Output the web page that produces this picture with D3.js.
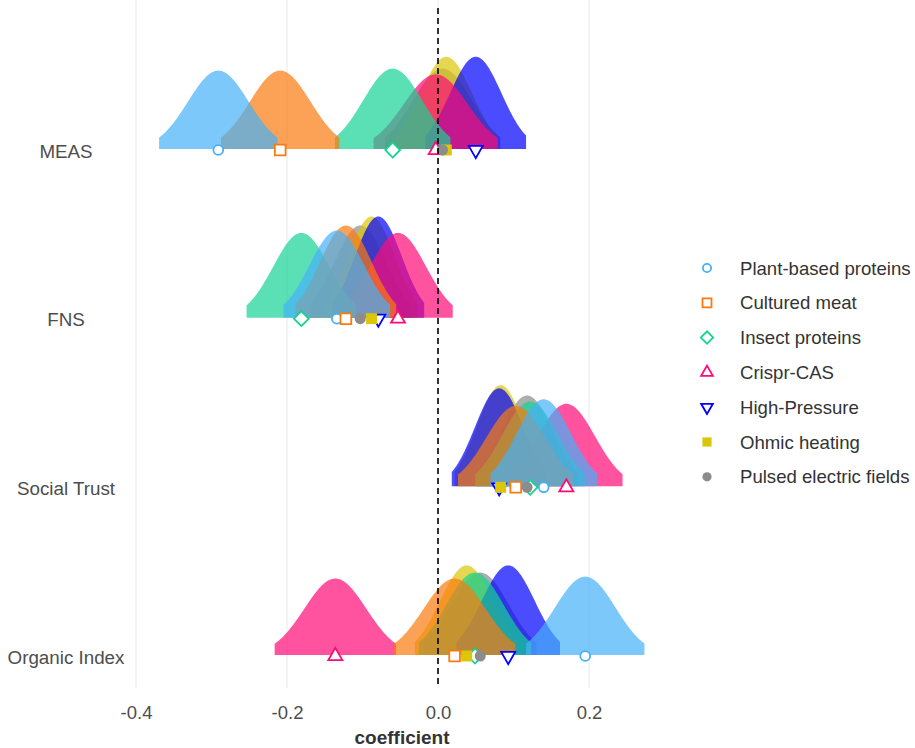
<!DOCTYPE html>
<html>
<head>
<meta charset="utf-8">
<script src="https://cdn.jsdelivr.net/npm/d3@7"></script>
<style>
  body { margin: 0; background: #fff; }
  text { font-family: "Liberation Sans", Arial, sans-serif; }
</style>
</head>
<body>
<svg id="chart"></svg>
<script>
// categories top to bottom
const categories = ['MEAS', 'FNS', 'Social Trust', 'Organic Index'];
const technologies = ['Plant-based proteins', 'Cultured meat', 'Insect proteins', 'Crispr-CAS',
    'High-Pressure', 'Ohmic heating', 'Pulsed electric fields'];
const colors = ['#45B0F8', '#FA7A10', '#14D394', '#FF0A78', '#0000FF', '#DBC60A', '#8C8C8C'];
const xTicks = [-0.4, -0.2, 0.0, 0.2];

// coefficient and standard error per category (MEAS, FNS, Social Trust, Organic Index)
const meanPlant = [-0.291, -0.134, 0.140, 0.195];
const sePlant = [0.040, 0.036, 0.036, 0.040];
const meanCultured = [-0.209, -0.122, 0.103, 0.022];
const seCultured = [0.040, 0.034, 0.039, 0.041];
const meanInsect = [-0.060, -0.181, 0.122, 0.049];
const seInsect = [0.039, 0.037, 0.037, 0.038];
const meanCrispr = [-0.003, -0.053, 0.170, -0.136];
const seCrispr = [0.042, 0.037, 0.038, 0.041];
const meanHP = [0.050, -0.079, 0.081, 0.093];
const seHP = [0.034, 0.031, 0.032, 0.035];
const meanOhmic = [0.011, -0.088, 0.083, 0.038];
const seOhmic = [0.034, 0.031, 0.031, 0.035];
const meanPEF = [0.006, -0.103, 0.118, 0.056];
const sePEF = [0.039, 0.034, 0.0345, 0.038];

const means = [meanPlant, meanCultured, meanInsect, meanCrispr, meanHP, meanOhmic, meanPEF];
const ses = [sePlant, seCultured, seInsect, seCrispr, seHP, seOhmic, sePEF];

const rows = [];
technologies.forEach((t, i) => {
    categories.forEach((c, j) => {
        rows.push({tech: t, idx: i, cat: c, mean: means[i][j], se: ses[i][j]});
    });
});

const W = 915, H = 748;
const svg = d3.select('#chart').attr('width', W).attr('height', H);

const x = d3.scaleLinear().domain([-0.4, 0.2]).range([136, 589]);
const y = d3.scalePoint().domain(categories).range([149, 655]);
const h = d3.scaleLinear().domain([0, 10]).range([0, 78.6]);
const panelTop = 0, panelBottom = 688;

// grid
svg.append('g')
    .selectAll('line')
    .data(xTicks)
    .join('line')
    .attr('x1', d => x(d)).attr('x2', d => x(d))
    .attr('y1', panelTop).attr('y2', panelBottom)
    .attr('stroke', '#EBEBEB')
    .attr('stroke-width', 1.1);

// ridges (95% interval of a normal density)
const pdf = (v, m, s) => Math.exp(-0.5 * ((v - m) / s) ** 2) / (s * Math.sqrt(2 * Math.PI));
const area = d3.area()
    .x(p => x(p.v))
    .y0(p => y(p.cat))
    .y1(p => y(p.cat) - h(p.d));

const drawOrder = rows.slice().sort((a, b) => b.idx - a.idx);
svg.append('g')
    .selectAll('path')
    .data(drawOrder)
    .join('path')
    .attr('d', r => {
        const lo = r.mean - 1.96 * r.se, hi = r.mean + 1.96 * r.se;
        const pts = d3.range(0, 121).map(k => {
            const v = lo + (hi - lo) * k / 120;
            return {v: v, cat: r.cat, d: pdf(v, r.mean, r.se)};
        });
        return area(pts);
    })
    .attr('fill', r => colors[r.idx])
    .attr('fill-opacity', 0.7);

// markers
const shapes = [
    {type: d3.symbolCircle, size: 76, rot: 0, filled: false},
    {type: d3.symbolSquare, size: 115, rot: 0, filled: false},
    {type: d3.symbolSquare, size: 110, rot: 45, filled: false},
    {type: d3.symbolTriangle, size: 85, rot: 0, filled: false},
    {type: d3.symbolTriangle, size: 85, rot: 180, filled: false},
    {type: d3.symbolSquare, size: 120, rot: 0, filled: true},
    {type: d3.symbolCircle, size: 95, rot: 0, filled: true}
];

function marker(sel, scale) {
    sel.attr('d', d => d3.symbol().type(shapes[d.idx].type).size(shapes[d.idx].size * scale)())
        .attr('fill', d => shapes[d.idx].filled ? colors[d.idx] : '#fff')
        .attr('stroke', d => shapes[d.idx].filled ? 'none' : colors[d.idx])
        .attr('stroke-width', 1.8);
}

svg.append('g')
    .selectAll('path')
    .data(rows)
    .join('path')
    .attr('transform', d => `translate(${x(d.mean)},${y(d.cat) + 1}) rotate(${shapes[d.idx].rot})`)
    .call(marker, 1);

// zero line
svg.append('line')
    .attr('x1', x(0)).attr('x2', x(0))
    .attr('y1', 8).attr('y2', panelBottom)
    .attr('stroke', '#000')
    .attr('stroke-width', 1.6)
    .attr('stroke-dasharray', '6,4');

// axes
const xAxis = svg.append('g')
    .attr('transform', `translate(0,700)`)
    .call(d3.axisBottom(x).tickValues(xTicks).tickFormat(d => d.toFixed(1)).tickSize(0).tickPadding(6));
xAxis.select('.domain').remove();
xAxis.selectAll('text')
    .attr('font-size', 18.5)
    .attr('font-family', '"Liberation Sans", Arial, sans-serif')
    .attr('fill', '#4D4D4D');

const yAxis = svg.append('g')
    .attr('transform', `translate(130,2)`)
    .call(d3.axisLeft(y).tickSize(0));
yAxis.select('.domain').remove();
yAxis.selectAll('text')
    .attr('x', 66 - 130)
    .attr('text-anchor', 'middle')
    .attr('font-size', 18.8)
    .attr('font-family', '"Liberation Sans", Arial, sans-serif')
    .attr('fill', '#4D4D4D');

svg.append('text')
    .attr('x', 402).attr('y', 744)
    .attr('text-anchor', 'middle')
    .attr('font-size', 19)
    .attr('font-weight', 'bold')
    .attr('fill', '#333')
    .text('coefficient');

// legend
const legend = svg.append('g')
    .selectAll('g')
    .data(technologies.map((t, i) => ({tech: t, idx: i})))
    .join('g')
    .attr('transform', (d, i) => `translate(707,${268 + i * 34.8})`);

legend.append('path')
    .attr('transform', d => `rotate(${shapes[d.idx].rot})`)
    .call(marker, 0.7);

legend.append('text')
    .attr('x', 33)
    .attr('dy', '0.35em')
    .attr('font-size', 18.6)
    .attr('fill', '#333')
    .text(d => d.tech);
</script>
</body>
</html>
